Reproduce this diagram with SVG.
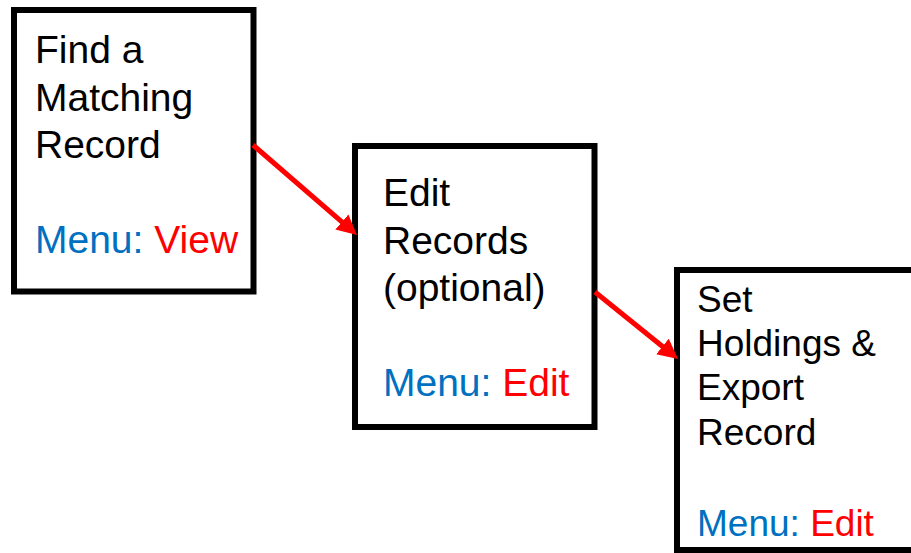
<svg xmlns="http://www.w3.org/2000/svg" width="911" height="553" viewBox="0 0 911 553">
<style>
.box{fill:#fff;stroke:#000;stroke-width:6}
.t{font-family:"Liberation Sans",Arial,sans-serif;fill:#000}
.b1{font-size:39px}
.b3{font-size:37px}
.blue{fill:#0070C0}
.red{fill:#FF0000}
.conn{stroke:#FF0000;stroke-width:5;fill:none}
</style>
<defs>
<marker id="ah" viewBox="0 0 10 10" refX="4" refY="5" markerWidth="20" markerHeight="20" markerUnits="userSpaceOnUse" orient="auto">
<path d="M0,0 L10,5 L0,10 z" fill="#FF0000"/>
</marker>
</defs>
<rect width="911" height="553" fill="#fff"/>
<g id="n1">
<rect class="box" x="14" y="10" width="239.5" height="281.5"/>
<text class="t b1" x="35"><tspan x="35" y="63">Find a</tspan><tspan x="35" y="111">Matching</tspan><tspan x="35" y="158">Record</tspan><tspan x="35" y="253"><tspan class="blue">Menu: </tspan><tspan class="red">View</tspan></tspan></text>
</g>
<g id="n2">
<rect class="box" x="355" y="146" width="239.5" height="281"/>
<text class="t b1" x="383"><tspan x="383" y="206">Edit</tspan><tspan x="383" y="254">Records</tspan><tspan x="383" y="301">(optional)</tspan><tspan x="383" y="396"><tspan class="blue">Menu: </tspan><tspan class="red">Edit</tspan></tspan></text>
</g>
<g id="n3">
<rect class="box" x="677" y="270" width="245" height="280"/>
<text class="t b3" x="697"><tspan x="697" y="312">Set</tspan><tspan x="697" y="356">Holdings &amp;</tspan><tspan x="697" y="400">Export</tspan><tspan x="697" y="445">Record</tspan><tspan x="697" y="536"><tspan class="blue">Menu: </tspan><tspan class="red">Edit</tspan></tspan></text>
</g>
<g id="connectors">
<line class="conn" x1="253" y1="145" x2="347.9" y2="227.2" marker-end="url(#ah)"/>
<line class="conn" x1="595" y1="292" x2="668.7" y2="351.5" marker-end="url(#ah)"/>
</g>
</svg>
